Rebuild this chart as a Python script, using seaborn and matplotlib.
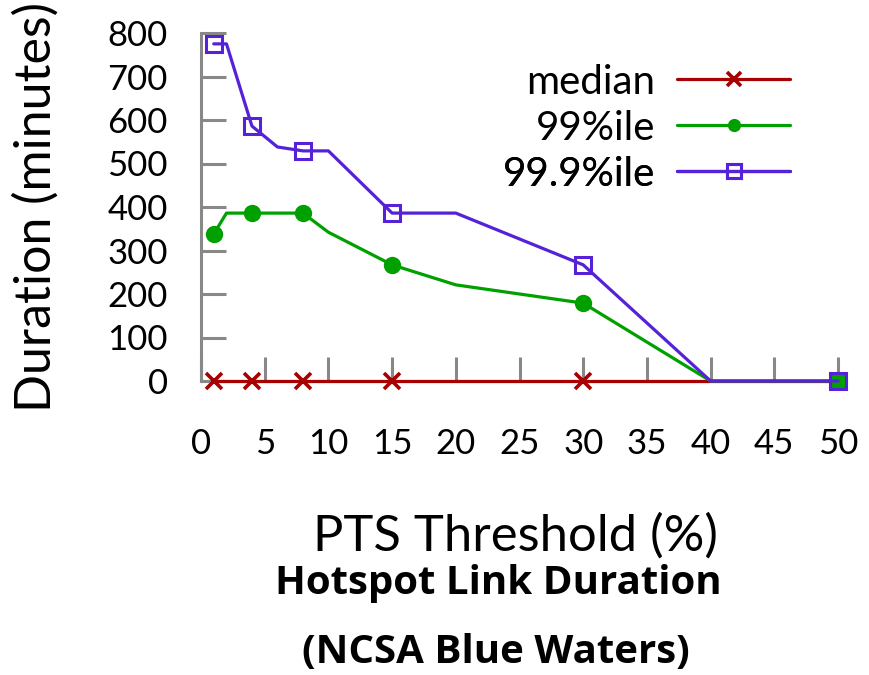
import matplotlib
matplotlib.use("Agg")
import matplotlib.pyplot as plt
import seaborn as sns
import pandas as pd

# PTS threshold (%) sampled values
threshold = [1, 2, 4, 6, 8, 10, 15, 20, 30, 40, 50]
# Hotspot link duration in minutes
median_dur = [1, 1, 1, 1, 1, 1, 1, 1, 1, 1, 1]
p99_dur = [338, 386, 386, 386, 386, 342, 267, 221, 179, 0, 0]
p999_dur = [775, 775, 586, 538, 529, 529, 386, 386, 267, 0, 0]

series_names = ["median", "99%ile", "99.9%ile"]
colors = ["#a80000", "#00a000", "#5522d8"]
y_ticks = [0, 100, 200, 300, 400, 500, 600, 700, 800]
x_ticks = [0, 5, 10, 15, 20, 25, 30, 35, 40, 45, 50]

sns.set_style("white")
plt.rcParams["font.family"] = ["Lato", "DejaVu Sans"]
plt.rcParams["text.color"] = "black"
plt.rcParams["axes.labelcolor"] = "black"
plt.rcParams["xtick.color"] = "black"
plt.rcParams["ytick.color"] = "black"

W, H = 869, 675
fig = plt.figure(figsize=(W / 100, H / 100), dpi=100)
ax = fig.add_axes([201 / W, 1 - 381 / H, 637 / W, 348 / H])

df = pd.DataFrame({"x": threshold, "median": median_dur,
                   "99%ile": p99_dur, "99.9%ile": p999_dur})

styles = {
    "median": dict(marker="x", markersize=11, markeredgewidth=2.6),
    "99%ile": dict(marker="o", markersize=12.5, markeredgewidth=0),
    "99.9%ile": dict(marker="s", markersize=11.5, markerfacecolor="none",
                     markeredgewidth=2.2),
}
for name, col in zip(series_names, colors):
    sns.lineplot(data=df, x="x", y=name, ax=ax, color=col, linewidth=2.3,
                 label=name, markevery=2, clip_on=False, zorder=3,
                 markeredgecolor=col, **styles[name])

ax.set_xlim(0, 50)
ax.set_ylim(0, 800)
ax.set_xticks(x_ticks)
ax.set_yticks(y_ticks)

for side in ["top", "right"]:
    ax.spines[side].set_visible(False)
for side in ["left", "bottom"]:
    ax.spines[side].set_color("#888888")
    ax.spines[side].set_linewidth(2.2)
    ax.spines[side].set_zorder(1)

ax.tick_params(axis="y", direction="in", length=18, width=2.2, color="#888888",
               labelsize=25, pad=24, left=True)
ax.tick_params(axis="x", direction="in", length=17, width=2.2, color="#888888",
               labelsize=25, pad=34, bottom=True)

ax.set_ylabel("Duration (minutes)", fontsize=36, labelpad=34)
ax.set_xlabel("")

fig.text(515 / W, 1 - 551 / H, "PTS Threshold (%)", fontsize=36.5,
         ha="center", va="baseline")
fig.text(498 / W, 1 - 594 / H, "Hotspot Link Duration", fontsize=29,
         fontweight="bold", family=["Open Sans", "DejaVu Sans"],
         ha="center", va="baseline")
fig.text(496 / W, 1 - 663 / H, "(NCSA Blue Waters)", fontsize=29,
         fontweight="bold", family=["Open Sans", "DejaVu Sans"],
         ha="center", va="baseline")

# one key per row so each label sits right-aligned against its sample line
handles, labels = ax.get_legend_handles_labels()
ax.get_legend().remove()
row_y = [82, 128, 174]
for h, lab, ry in zip(handles, labels, row_y):
    leg = ax.legend(handles=[h], labels=[lab], loc="center right",
                    bbox_to_anchor=((790 - 201) / 637, (381 - ry) / 348),
                    frameon=False, markerfirst=False, fontsize=29,
                    handlelength=2.8, handletextpad=0.55, borderaxespad=0,
                    borderpad=0)
    for lh in leg.legend_handles:
        lh.set_markersize(9.5)
    ax.add_artist(leg)

fig.savefig("out.png", dpi=100)
